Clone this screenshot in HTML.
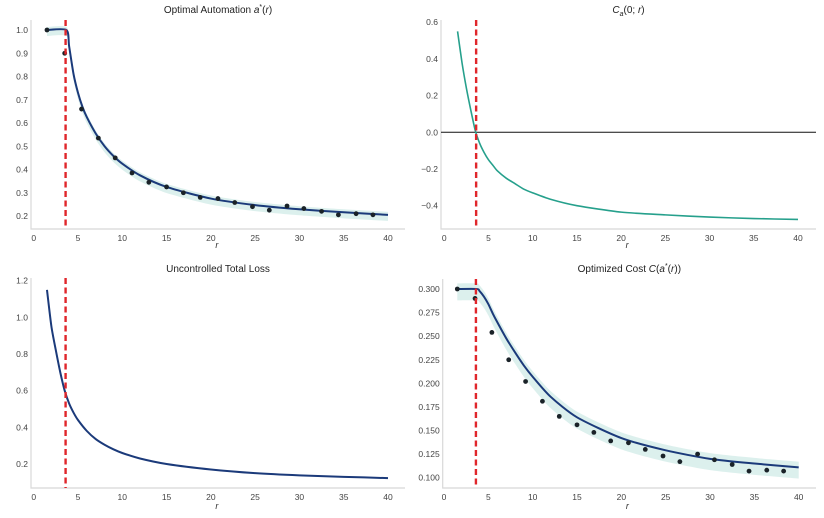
<!DOCTYPE html>
<html><head><meta charset="utf-8"><style>
body{margin:0;background:#fff;}
svg{display:block;font-family:"Liberation Sans",sans-serif;}
</style></head><body>
<svg id="c" width="824" height="518"></svg>
<script>
const dotR=[1.5,3.5,5.4,7.3,9.2,11.1,13.0,15.0,16.9,18.8,20.8,22.7,24.7,26.6,28.6,30.5,32.5,34.4,36.4,38.3];
const dotsAuto=[1.0,0.9,0.66,0.535,0.45,0.385,0.345,0.325,0.30,0.28,0.275,0.258,0.24,0.225,0.243,0.232,0.22,0.205,0.21,0.205];
const dotsCost=[0.300,0.290,0.254,0.225,0.202,0.181,0.165,0.156,0.148,0.139,0.137,0.130,0.123,0.117,0.125,0.119,0.114,0.107,0.108,0.107];
const curveR=[1.5,3.7,4,4.5,5,5.5,6,7,8,9,10,12,15,20,25,30,35,40];
const curveAuto=[1,1,0.93,0.81,0.73,0.67,0.625,0.555,0.5,0.458,0.425,0.375,0.325,0.275,0.247,0.229,0.216,0.205];
const curveCost=[0.3,0.3,0.298,0.292,0.284,0.274,0.265,0.248,0.233,0.219,0.207,0.186,0.164,0.142,0.129,0.12,0.115,0.111];
const caR=[1.5,2,2.5,3,3.5,4,4.5,5,5.5,6,7,8,9,10,12,15,20,25,30,35,40];
const caVals=[0.55,0.38,0.24,0.12,0.01,-0.06,-0.11,-0.15,-0.18,-0.21,-0.25,-0.28,-0.31,-0.33,-0.365,-0.40,-0.435,-0.45,-0.462,-0.47,-0.475];
const lossR=[1.5,2,2.5,3,3.5,4,4.5,5,6,7,8,9,10,12,15,20,25,30,35,40];
const lossVals=[1.15,0.95,0.82,0.70,0.60,0.53,0.48,0.44,0.38,0.336,0.305,0.28,0.26,0.23,0.2,0.17,0.15,0.138,0.13,0.123];
const xTicks=[0,5,10,15,20,25,30,35,40];
const threshold=3.6;
const NS="http://www.w3.org/2000/svg";
const svg=document.getElementById('c');
function el(t,a,p){const e=document.createElementNS(NS,t);for(const k in a)e.setAttribute(k,a[k]);(p||svg).appendChild(e);return e;}
function path(xs,ys,sx,sy){let d='';const P=xs.map((x,i)=>[sx(x),sy(ys[i])]);
 d='M'+P[0][0]+','+P[0][1];
 for(let i=0;i<P.length-1;i++){const p0=P[Math.max(0,i-1)],p1=P[i],p2=P[i+1],p3=P[Math.min(P.length-1,i+2)];
  const t=0.12;d+=' C'+(p1[0]+(p2[0]-p0[0])*t)+','+(p1[1]+(p2[1]-p0[1])*t)+' '+(p2[0]-(p3[0]-p1[0])*t)+','+(p2[1]-(p3[1]-p1[1])*t)+' '+p2[0]+','+p2[1];}
 return d;}
const panels=[
 {name:'optimal-automation',title:'Optimal Automation <tspan font-style="italic">a</tspan><tspan dy="-4" font-size="7">*</tspan><tspan dy="4">(</tspan><tspan font-style="italic">r</tspan>)',x0:33.7,x1:388,L:31,R:405,T:20,B:229,v0:1.0,p0:30,v1:0.2,p1:216,yt:[0.2,0.3,0.4,0.5,0.6,0.7,0.8,0.9,1.0],fmt:v=>v.toFixed(1),cx:curveR,cy:curveAuto,color:'#1b3a7a',dx:dotR,dy:dotsAuto,band:0.013,titleY:13,xlY:248},
 {name:'ca-zero',title:'<tspan font-style="italic">C</tspan><tspan font-style="italic" font-size="7" dy="3">a</tspan><tspan dy="-3">(0; </tspan><tspan font-style="italic">r</tspan>)',x0:444.3,x1:798,L:441,R:816,T:20,B:229,v0:0.0,p0:132.3,v1:-0.4,p1:205.7,yt:[-0.4,-0.2,0.0,0.2,0.4,0.6],fmt:v=>(v<0?'\u2212':'')+Math.abs(v).toFixed(1),cx:caR,cy:caVals,color:'#26a08c',zero:true,titleY:13,xlY:248},
 {name:'uncontrolled-loss',title:'Uncontrolled Total Loss',x0:33.7,x1:388,L:31,R:405,T:278,B:488,v0:1.2,p0:280.7,v1:0.2,p1:464,yt:[0.2,0.4,0.6,0.8,1.0,1.2],fmt:v=>v.toFixed(1),cx:lossR,cy:lossVals,color:'#1b3a7a',titleY:272,xlY:509},
 {name:'optimized-cost',title:'Optimized Cost <tspan font-style="italic">C</tspan>(<tspan font-style="italic">a</tspan><tspan dy="-4" font-size="7">*</tspan><tspan dy="4">(</tspan><tspan font-style="italic">r</tspan>))',x0:444,x1:798.7,L:442.7,R:816,T:279,B:488,v0:0.3,p0:289,v1:0.1,p1:477.7,yt:[0.1,0.125,0.15,0.175,0.2,0.225,0.25,0.275,0.3],fmt:v=>v.toFixed(3),cx:curveR,cy:curveCost,color:'#1b3a7a',dx:dotR,dy:dotsCost,band:0.006,titleY:272,xlY:509}
];
panels.forEach(p=>{
 const g=el('g',{});
 
 
 const sx=x=>p.x0+(x/40)*(p.x1-p.x0);
 const sy=v=>p.p0+(v-p.v0)*(p.p1-p.p0)/(p.v1-p.v0);
 const t=el('text',{x:(p.L+p.R)/2,y:p.titleY,'text-anchor':'middle','font-size':'10',fill:'#222'},g);t.innerHTML=p.title;
 
 const sp=el('path',{d:`M${p.L},${p.T} V${p.B} H${p.R}`,stroke:'#d8d8d8','stroke-width':1.2,fill:'none'},g);
 
 xTicks.forEach(v=>{const tx=el('text',{x:sx(v),y:p.B+12,'text-anchor':'middle','font-size':'8.5',fill:'#444'},g);tx.textContent=v;
  });
 p.yt.forEach(v=>{const ty=el('text',{x:p.L-3,y:sy(v)+3,'text-anchor':'end','font-size':'8.5',fill:'#444'},g);ty.textContent=p.fmt(v);
  });
 const xl=el('text',{x:(p.x0+p.x1)/2+6,y:p.xlY,'text-anchor':'middle','font-size':'9','font-style':'italic',fill:'#333'},g);xl.textContent='r';
 
 if(p.band){const up=p.cy.map(v=>v+p.band),lo=p.cy.map(v=>v-p.band*2);
  const d=path(p.cx,up,sx,sy)+' L'+path(p.cx.slice().reverse(),lo.slice().reverse(),sx,sy).slice(1)+'Z';
  const b=el('path',{d:d,fill:'#bfe3df','fill-opacity':0.55,stroke:'none'},g);
  }
 if(p.zero){const z=el('line',{x1:p.L,x2:p.R,y1:sy(0),y2:sy(0),stroke:'#111','stroke-width':1},g);
  }
 const ln=el('path',{d:path(p.cx,p.cy,sx,sy),stroke:p.color,'stroke-width':p.zero?1.6:2,fill:'none'},g);
 
 if(p.dx){p.dx.forEach((x,i)=>{const c=el('circle',{cx:sx(x),cy:sy(p.dy[i]),r:2.4,fill:'#1a2228'},g);
  });}
 const rl=el('line',{x1:sx(threshold),x2:sx(threshold),y1:p.T,y2:p.B,stroke:'#e0262b','stroke-width':2.4,'stroke-dasharray':'6,3.5'},g);
 
});
</script>
</body></html>
